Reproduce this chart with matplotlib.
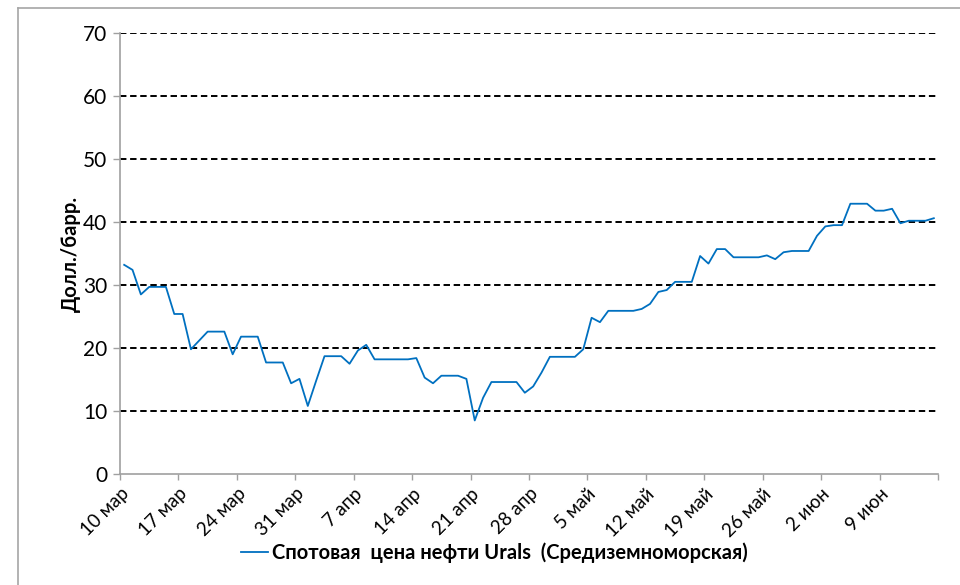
import matplotlib

matplotlib.use("Agg")
import matplotlib.pyplot as plt  # noqa: E402
import numpy as np  # noqa: E402
from matplotlib.lines import Line2D  # noqa: E402

# Спотовая цена Urals, ежедневно с 10 марта по 15 июня (долл./барр.)
prices = [
    33.2, 32.4, 28.5, 29.7, 29.7, 29.7, 25.4, 25.4, 19.8, 21.2,
    22.6, 22.6, 22.6, 19.0, 21.8, 21.8, 21.8, 17.7, 17.7, 17.7,
    14.4, 15.1, 10.8, 14.8, 18.7, 18.7, 18.7, 17.5, 19.6, 20.5,
    18.2, 18.2, 18.2, 18.2, 18.2, 18.4, 15.3, 14.4, 15.6, 15.6,
    15.6, 15.1, 8.5, 12.1, 14.6, 14.6, 14.6, 14.6, 12.9, 13.9,
    16.1, 18.6, 18.6, 18.6, 18.6, 19.8, 24.8, 24.1, 25.9, 25.9,
    25.9, 25.9, 26.2, 27.0, 28.9, 29.2, 30.5, 30.5, 30.5, 34.6,
    33.4, 35.7, 35.7, 34.4, 34.4, 34.4, 34.4, 34.7, 34.1, 35.2,
    35.4, 35.4, 35.4, 37.8, 39.3, 39.5, 39.5, 42.9, 42.9, 42.9,
    41.8, 41.8, 42.1, 39.8, 40.2, 40.2, 40.2, 40.6,
]
week_labels = ["10 мар", "17 мар", "24 мар", "31 мар", "7 апр", "14 апр", "21 апр",
               "28 апр", "5 май", "12 май", "19 май", "26 май", "2 июн", "9 июн"]
y_ticks = [0, 10, 20, 30, 40, 50, 60, 70]
series_name = "Спотовая  цена нефти Urals  (Средиземноморская)"

plt.rcParams["font.family"] = ["Lato", "DejaVu Sans"]

fig = plt.figure(figsize=(9.6, 5.85), dpi=100)
ax = fig.add_axes([120 / 960, 111 / 585, 818 / 960, 441 / 585])

n_days = len(prices)
x = np.arange(n_days) + 0.5  # точки в центре дневного интервала
line, = ax.plot(x, prices, color="#0070C0", lw=1.3, zorder=3)

ax.set_xlim(0, n_days)
ax.set_ylim(y_ticks[0], y_ticks[-1])

ax.hlines(y_ticks[1:], 0, n_days, colors="black", linestyles=(0, (3.3, 1.9)), lw=1.4, zorder=1)

week_pos = np.arange(0, n_days + 1, 7)
ax.set_xticks(week_pos)
ax.set_xticklabels(week_labels + [""] * (len(week_pos) - len(week_labels)),
                   rotation=45, ha="right", rotation_mode="anchor", fontsize=13.5)
ax.set_yticks(y_ticks)
ax.tick_params(axis="y", labelsize=15, length=5, width=1, color="#A0A0A0", pad=4)
ax.tick_params(axis="x", length=4, width=1, color="#A0A0A0", pad=4)

for side in ("top", "right"):
    ax.spines[side].set_visible(False)
for side in ("left", "bottom"):
    ax.spines[side].set_color("#A0A0A0")
    ax.spines[side].set_linewidth(1.2)

ax.set_ylabel("Долл./барр.", fontsize=14.5, fontweight="bold", labelpad=2)

fig.legend([line], [series_name], loc="center", bbox_to_anchor=(0.515, 0.055),
           frameon=False, handlelength=1.3, handletextpad=0.2,
           prop={"weight": "bold", "size": 14.5})

# рамка области диаграммы
fig.add_artist(Line2D([18 / 960, 18 / 960], [0, 1 - 8 / 585], transform=fig.transFigure,
                      color="#A6A6A6", lw=1.2))
fig.add_artist(Line2D([18 / 960, 1], [1 - 8 / 585, 1 - 8 / 585], transform=fig.transFigure,
                      color="#A6A6A6", lw=1.2))

fig.savefig("out.png", dpi=100)
